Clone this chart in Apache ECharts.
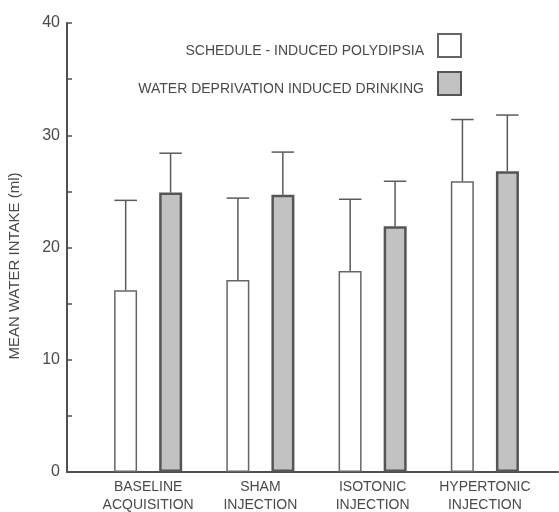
<!DOCTYPE html>
<html>
<head>
<meta charset="utf-8">
<script src="https://cdn.jsdelivr.net/npm/echarts@6/dist/echarts.min.js"></script>
<style>
	html, body { margin: 0; padding: 0; background: #fff; }
	#main { width: 559px; height: 512px; }
</style>
</head>
<body>
<div id="main"></div>
<script>
	// values
	var categories = ['BASELINE\nACQUISITION', 'SHAM\nINJECTION', 'ISOTONIC\nINJECTION', 'HYPERTONIC\nINJECTION'];
	var polydipsia = [16.2, 17.1, 17.9, 25.9];
	var polydipsiaErr = [8.0, 7.3, 6.4, 5.5];
	var deprivation = [24.9, 24.7, 21.9, 26.8];
	var deprivationErr = [3.5, 3.8, 4.0, 5.0];
	var yTicks = [0, 10, 20, 30, 40];

	var ink = '#505050';
	var font = 'Liberation Sans';

	function errorBars(means, errs) {
		return means.map(function (m, i) { return [i, m, errs[i]]; });
	}

	function renderErr(side) {
		return function (params, api) {
			var band = api.size([1, 0])[0];
			var base = api.coord([api.value(0), api.value(1)]);
			var top = api.coord([api.value(0), api.value(1) + api.value(2)]);
			var x = base[0] + side * band * 0.2;
			var half = band * 0.1;
			var st = { stroke: '#5a5a5a', lineWidth: 1.5 };
			return {
				type: 'group',
				children: [
					{ type: 'line', shape: { x1: x, y1: base[1], x2: x, y2: top[1] }, style: st },
					{ type: 'line', shape: { x1: x - half, y1: top[1], x2: x + half, y2: top[1] }, style: st }
				]
			};
		};
	}

	var myChart = echarts.init(document.getElementById('main'));
	var option = {
		backgroundColor: '#fff',
		animation: false,
		textStyle: { fontFamily: font },
		legend: {
			orient: 'vertical',
			align: 'right',
			right: 92,
			top: 28,
			icon: 'rect',
			itemWidth: 23,
			itemHeight: 23,
			itemGap: 13,
			data: ['SCHEDULE - INDUCED POLYDIPSIA', 'WATER DEPRIVATION INDUCED DRINKING'],
			formatter: '{t|{name}}',
			textStyle: {
				fontFamily: font, fontSize: 14, color: '#4a4a4a', padding: [0, 9, 0, 0],
				rich: { t: { fontFamily: font, fontSize: 14, color: '#4a4a4a', padding: [11, 0, 0, 0] } }
			}
		},
		grid: [
			{ left: 67, right: 1, top: 23, bottom: 40, outerBoundsMode: 'none' },
			{ left: 92, right: 18, top: 23, bottom: 40, outerBoundsMode: 'none' }
		],
		xAxis: [
			{
				gridIndex: 0, type: 'category', data: [''],
				axisLine: { lineStyle: { color: ink, width: 2 } },
				axisTick: { show: false }, axisLabel: { show: false }
			},
			{
				gridIndex: 1, type: 'category', data: categories,
				axisLine: { show: false }, axisTick: { show: false },
				axisLabel: { interval: 0, fontFamily: font, fontSize: 14, color: '#4a4a4a', lineHeight: 18, margin: 6 }
			}
		],
		yAxis: [
			{
				gridIndex: 0, type: 'value', min: 0, max: 40, interval: 5,
				name: 'MEAN WATER INTAKE (ml)', nameLocation: 'middle', nameRotate: 90, nameGap: 45,
				nameTextStyle: { fontFamily: font, fontSize: 15, color: '#4a4a4a', padding: [0, 37, 0, 0] },
				axisLine: { show: true, lineStyle: { color: ink, width: 2 } },
				axisTick: { show: true, inside: true, length: 5, lineStyle: { color: ink, width: 1.5 } },
				axisLabel: {
					fontFamily: font, fontSize: 16, color: '#4a4a4a', margin: 7,
					formatter: function (v) { return yTicks.indexOf(v) >= 0 ? String(v) : ''; }
				},
				splitLine: { show: false }
			},
			{
				gridIndex: 1, type: 'value', min: 0, max: 40, show: false
			}
		],
		series: [
			{
				name: 'SCHEDULE - INDUCED POLYDIPSIA', type: 'bar', xAxisIndex: 1, yAxisIndex: 1,
				data: polydipsia, barWidth: 23, barGap: '96%',
				itemStyle: { color: '#ffffff', borderColor: '#666', borderWidth: 1.5 }
			},
			{
				name: 'WATER DEPRIVATION INDUCED DRINKING', type: 'bar', xAxisIndex: 1, yAxisIndex: 1,
				data: deprivation, barWidth: 23,
				itemStyle: { color: '#c2c2c2', borderColor: '#555', borderWidth: 2.5 }
			},
			{
				type: 'custom', xAxisIndex: 1, yAxisIndex: 1, z: 3,
				data: errorBars(polydipsia, polydipsiaErr), renderItem: renderErr(-1)
			},
			{
				type: 'custom', xAxisIndex: 1, yAxisIndex: 1, z: 3,
				data: errorBars(deprivation, deprivationErr), renderItem: renderErr(1)
			}
		]
	};
	myChart.setOption(option);
</script>
</body>
</html>
